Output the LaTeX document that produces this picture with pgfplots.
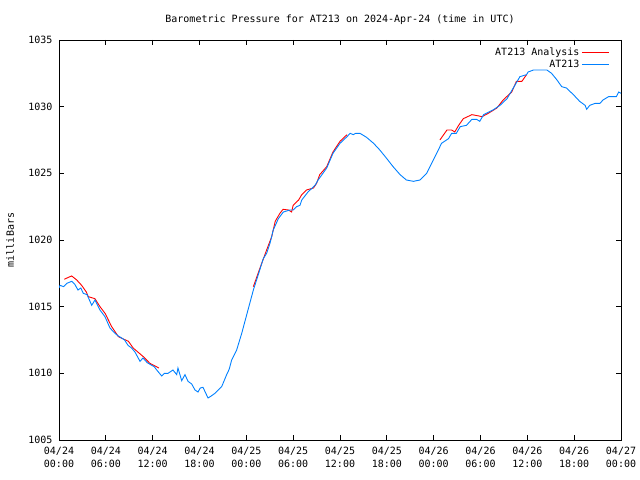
\documentclass[border=0pt]{standalone}
\usepackage{pgfplots}
\pgfplotsset{compat=1.18}
\usepackage{fontspec}
\setmainfont{DejaVu Sans Mono}
\definecolor{anared}{RGB}{255,0,0}
\definecolor{obsblue}{RGB}{0,128,255}
\begin{document}
\fontsize{10bp}{12bp}\selectfont
\begin{tikzpicture}[x=1bp,y=1bp]
\useasboundingbox (0,0) rectangle (640,480);
\begin{axis}[
  at={(59bp,40bp)}, anchor=south west,
  scale only axis, width=562bp, height=400bp,
  xmin=0, xmax=72, ymin=1005, ymax=1035,
  xtick={0,6,...,72},
  xticklabels={04/24\\[2bp]00:00,04/24\\[2bp]06:00,04/24\\[2bp]12:00,04/24\\[2bp]18:00,04/25\\[2bp]00:00,04/25\\[2bp]06:00,04/25\\[2bp]12:00,04/25\\[2bp]18:00,04/26\\[2bp]00:00,04/26\\[2bp]06:00,04/26\\[2bp]12:00,04/26\\[2bp]18:00,04/27\\[2bp]00:00},
  xticklabel style={align=center, font=\fontsize{10bp}{11bp}\selectfont, yshift=-3.5bp},
  ytick={1005,1010,...,1035},
  yticklabels={1005,1010,1015,1020,1025,1030,1035},
  yticklabel style={font=\fontsize{10bp}{11bp}\selectfont, xshift=-3bp},
  tick align=inside, xtick pos=both, ytick pos=both,
  major tick length=5bp,
  axis line style={line width=0.8bp},
  tick style={line width=0.8bp, black},
  unbounded coords=jump,
  legend cell align=right,
  legend plot pos=right,
  legend style={draw=none, fill=none, at={(rel axis cs:0.985,0.99)}, anchor=north east, font=\fontsize{10bp}{11bp}\selectfont, row sep=-1.5bp},
  legend image code/.code={\draw[#1] (0bp,0bp) -- (27bp,0bp);},
]
\addplot[anared, line width=0.9bp] coordinates {
(0.68,1017.05) (1.2,1017.2) (1.63,1017.3) (2.27,1017.0) (2.9,1016.6) (3.5,1016.1) (3.75,1015.75) (4.6,1015.6) (5.25,1015.0) (5.9,1014.5) (6.75,1013.5) (7.6,1012.75) (8.9,1012.4) (9.5,1011.9) (10.8,1011.25) (11.65,1010.75) (12.8,1010.4)
(18,nan)
(24.9,1016.5) (25.75,1017.9) (26.6,1019.25) (27.25,1020.25) (27.7,1021.4) (28.3,1022.0) (28.7,1022.3) (29.4,1022.25) (29.8,1022.1) (30.0,1022.6) (30.7,1023.0) (31.1,1023.4) (31.7,1023.75) (32.6,1023.9) (33.0,1024.25) (33.4,1024.9) (34.3,1025.5) (35.1,1026.6) (36.0,1027.4) (36.9,1027.9)
(42,nan)
(48.8,1027.5) (49.7,1028.25) (50.3,1028.25) (50.7,1028.1) (51.2,1028.6) (51.8,1029.1) (52.9,1029.4) (53.8,1029.3) (54.2,1029.25) (55.0,1029.5) (56.1,1029.9) (56.9,1030.5) (58.0,1031.1) (58.6,1031.9) (59.3,1031.9) (59.9,1032.4)
};
\addlegendentry{AT213 Analysis}
\addplot[obsblue, line width=0.9bp] coordinates {
(0,1016.4) (0.13,1016.6) (0.6,1016.5) (1.0,1016.75) (1.63,1016.9) (2.0,1016.7) (2.43,1016.25) (2.8,1016.4) (3.11,1016.0) (3.6,1015.9) (4.19,1015.1) (4.61,1015.5) (5.25,1014.75) (5.89,1014.25) (6.53,1013.4) (7.17,1013.0) (7.6,1012.8) (8.03,1012.65) (8.4,1012.5) (8.84,1012.1) (9.3,1011.9) (9.73,1011.6) (10.38,1010.9) (10.76,1011.15) (11.3,1010.8) (11.88,1010.6) (12.2,1010.5) (12.52,1010.25) (13.16,1009.8) (13.5,1010.0) (13.96,1010.0) (14.6,1010.25) (15.08,1009.9) (15.24,1010.4) (15.72,1009.45) (16.14,1009.9) (16.53,1009.4) (17.0,1009.2) (17.42,1008.75) (17.81,1008.6) (18.1,1008.9) (18.45,1008.95) (19.09,1008.15) (19.5,1008.3) (19.98,1008.5) (20.4,1008.75) (20.84,1009.0) (21.48,1009.9) (21.8,1010.3) (22.12,1011.0) (22.76,1011.75) (23.41,1013.0) (24.21,1014.75) (24.9,1016.25) (25.53,1017.4) (26.17,1018.6) (26.6,1019.0) (27.03,1019.75) (27.45,1020.75) (28.1,1021.6) (28.74,1022.1) (29.6,1022.25) (30.0,1022.25) (30.45,1022.5) (30.87,1022.6) (31.1,1023.0) (31.9,1023.6) (32.8,1024.1) (33.2,1024.5) (34.3,1025.4) (35.1,1026.5) (36.0,1027.25) (36.9,1027.75) (37.3,1028.0) (37.7,1027.9) (38.0,1028.0) (38.56,1028.0) (39.4,1027.7) (40.3,1027.25) (41.1,1026.75) (42.0,1026.1) (42.8,1025.5) (43.7,1024.9) (44.5,1024.5) (45.4,1024.4) (46.25,1024.5) (47.1,1025.0) (47.95,1026.0) (48.6,1026.75) (49.0,1027.25) (49.9,1027.6) (50.3,1028.0) (50.9,1028.0) (51.4,1028.5) (52.2,1028.6) (52.9,1029.05) (53.5,1029.05) (53.9,1028.9) (54.4,1029.4) (55.6,1029.75) (56.5,1030.1) (57.4,1030.6) (58.2,1031.4) (59.05,1032.25) (59.9,1032.4) (60.1,1032.6) (60.8,1032.75) (62.5,1032.75) (63.1,1032.5) (63.8,1032.0) (64.4,1031.5) (65.0,1031.4) (65.9,1030.9) (66.7,1030.4) (67.4,1030.1) (67.6,1029.8) (68.0,1030.1) (68.7,1030.25) (69.3,1030.25) (69.7,1030.5) (70.4,1030.75) (71.4,1030.75) (71.7,1031.1) (72,1031.0)
};
\addlegendentry{AT213}
\end{axis}
\node at (340,460) {Barometric Pressure for AT213 on 2024-Apr-24 (time in UTC)};
\node[rotate=90] at (10,240) {milliBars};
\end{tikzpicture}
\end{document}
